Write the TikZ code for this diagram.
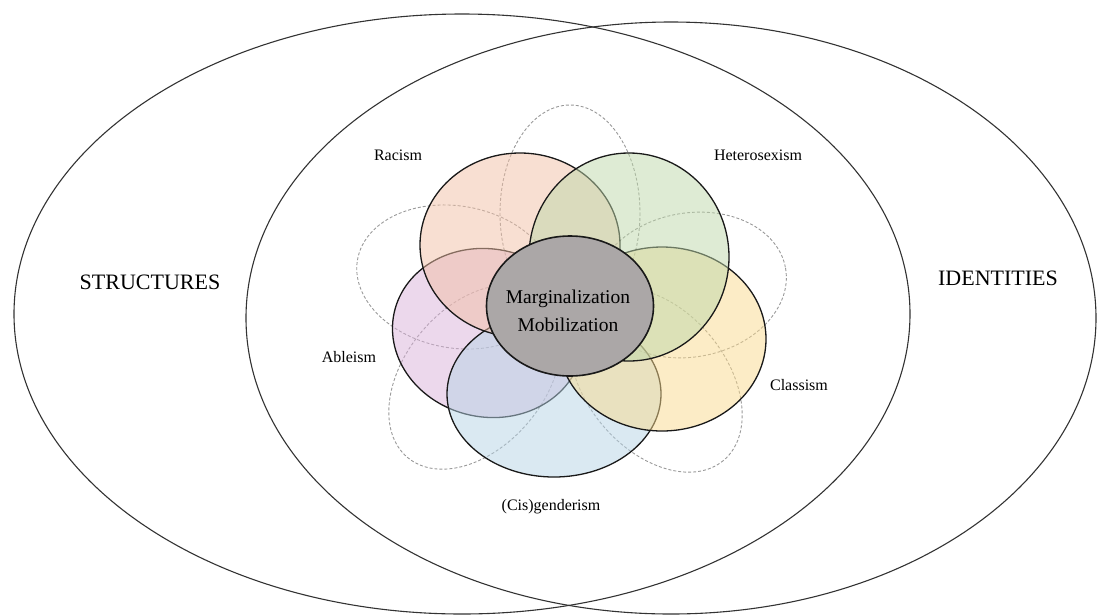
\documentclass[tikz,border=0pt]{standalone}
\usepackage{fontspec}
\setmainfont{Liberation Serif}
\usepackage{xcolor}
\usetikzlibrary{shapes.geometric}

\definecolor{peach}{RGB}{241,191,165}
\definecolor{sage}{RGB}{189,215,169}
\definecolor{sand}{RGB}{249,217,141}
\definecolor{sky}{RGB}{181,211,229}
\definecolor{lilac}{RGB}{217,177,217}
\definecolor{coregrey}{RGB}{171,167,167}

\begin{document}
\begin{tikzpicture}[
    x=1pt, y=-1pt,
    every node/.style={text=black},
    outer/.style={draw=black!80, line width=1.1pt},
    ghost/.style={draw=black!40, line width=0.9pt, dash pattern=on 3pt off 2pt},
    petal/.style={draw=black!90, line width=1.3pt, fill opacity=0.5},
    tag/.style={font=\fontsize{16}{19}\selectfont},
    side/.style={font=\fontsize{22}{26}\selectfont}
  ]
    \useasboundingbox (0,0) rectangle (1098,614);

    % structures / identities
    \draw[outer] (462,314) ellipse [x radius=448, y radius=300];
    \draw[outer] (671,318) ellipse [x radius=425, y radius=296];

    % dashed petals
    \draw[ghost] (570,213) ellipse [x radius=70, y radius=108];
    \draw[ghost, rotate around={-10:(456,277)}] (456,277) ellipse [x radius=100, y radius=71];
    \draw[ghost, rotate around={10:(690,285)}] (690,285) ellipse [x radius=97, y radius=72];
    \draw[ghost, rotate around={50:(475,377)}] (475,377) ellipse [x radius=105, y radius=70];
    \draw[ghost, rotate around={-50:(656,380)}] (656,380) ellipse [x radius=105, y radius=70];

    % coloured petals
    \draw[petal, fill=lilac, rotate around={-12:(488,333)}] (488,333) ellipse [x radius=96, y radius=84];
    \draw[petal, fill=sky] (554,394) ellipse [x radius=107, y radius=83];
    \draw[petal, fill=peach] (520,245) ellipse [x radius=100, y radius=92];
    \draw[petal, fill=sand] (662,339) ellipse [x radius=104, y radius=92];
    \draw[petal, fill=sage] (629,257) ellipse [x radius=100, y radius=104];

    \node[ellipse, draw=black!90, line width=1.6pt, fill=coregrey,
      minimum width=167pt, minimum height=140pt, inner sep=0pt] (core) at (570,306) {};
    \node[align=center, font=\fontsize{19.5}{28}\selectfont] (corelabel) at (568,311) {Marginalization\\Mobilization};

    \node[side] (structures) at (150,282) {STRUCTURES};
    \node[side] (identities) at (998,278) {IDENTITIES};
    \node[tag] (racism) at (398,155) {Racism};
    \node[tag] (hetero) at (758,155) {Heterosexism};
    \node[tag] (ableism) at (349,357) {Ableism};
    \node[tag] (classism) at (799,385) {Classism};
    \node[tag] (gender) at (551,507) {(Cis)genderism};
\end{tikzpicture}
\end{document}
